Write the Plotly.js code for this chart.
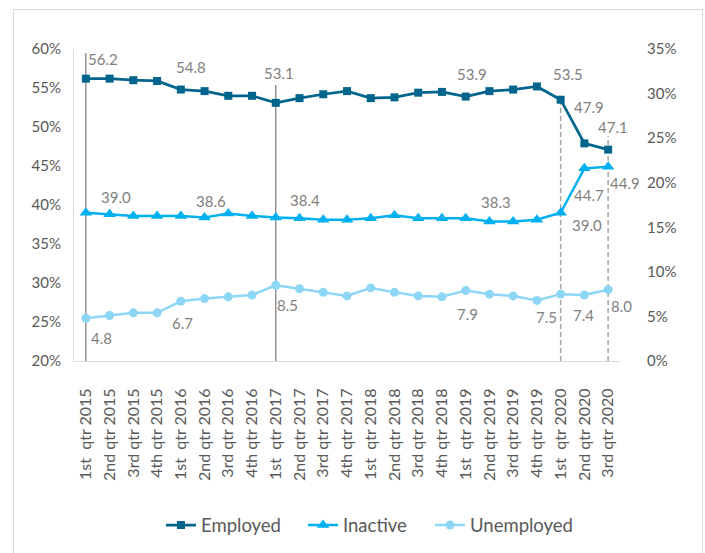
<!DOCTYPE html>
<html>
<head>
<meta charset="utf-8">
<script src="https://cdn.plot.ly/plotly-3.0.1.min.js"></script>
<style>html,body{margin:0;padding:0;background:#fff;}#chart{width:705px;height:553px;}</style>
</head>
<body>
<div id="chart"></div>
<script>
// ---- data ----
const quarters = [
  "1st\u00a0 qtr 2015","2nd qtr 2015","3rd qtr 2015","4th qtr 2015",
  "1st\u00a0 qtr 2016","2nd qtr 2016","3rd qtr 2016","4th qtr 2016",
  "1st\u00a0 qtr 2017","2nd qtr 2017","3rd qtr 2017","4th qtr 2017",
  "1st\u00a0 qtr 2018","2nd qtr 2018","3rd qtr 2018","4th qtr 2018",
  "1st\u00a0 qtr 2019","2nd qtr 2019","3rd qtr 2019","4th qtr 2019",
  "1st\u00a0 qtr 2020","2nd qtr 2020","3rd qtr 2020"
];
const employed   = [56.2,56.2,56.0,55.9,54.8,54.6,54.0,54.0,53.1,53.7,54.2,54.6,53.7,53.8,54.4,54.5,53.9,54.6,54.8,55.2,53.5,47.9,47.1];
const inactive   = [39.0,38.8,38.6,38.6,38.6,38.4,38.9,38.6,38.4,38.3,38.1,38.1,38.3,38.7,38.3,38.3,38.3,37.9,37.9,38.1,39.0,44.7,44.9];
const unemployed = [4.8,5.1,5.4,5.4,6.7,7.0,7.2,7.4,8.5,8.1,7.7,7.3,8.2,7.7,7.3,7.2,7.9,7.5,7.3,6.8,7.5,7.4,8.0];

// which points carry a data label
const labelIdx = [0,4,8,16,20,21,22];
// label offsets in pixels [dx, dy(up)]
const empOff = [[17,20],[10,23],[3,30],[6,23],[7,26],[5,36],[5,23]];
const inaOff = [[30,16],[30,15],[29,17],[30,16],[26,-12],[5,-27],[17,-16]];
const uneOff = [[16,-20],[2,-22],[12,-20],[2,-23],[-14,-23],[-1,-20],[13,-16]];

// reference drop lines: [category index, top value on left axis, dashed?]
const dropLines = [[0,59.5,false],[8,55.4,false],[20,employed[20],true],[22,48.85,true]];

const C_EMP = '#00658d', C_INA = '#00b0f0', C_UNE = '#8dd6f6';
const FONT = 'Lato, "Open Sans", sans-serif';
const x = quarters;

const traces = [
  {x:x, y:employed, name:'Employed', type:'scatter', mode:'lines+markers', legend:'legend',
   line:{color:C_EMP, width:2.75}, marker:{symbol:'square', size:8, color:C_EMP}, yaxis:'y'},
  {x:x, y:inactive, name:'Inactive', type:'scatter', mode:'lines+markers', legend:'legend2',
   line:{color:C_INA, width:2.5}, marker:{symbol:'triangle-up', size:11, color:C_INA}, yaxis:'y'},
  {x:x, y:unemployed, name:'Unemployed', type:'scatter', mode:'lines+markers', legend:'legend3',
   line:{color:C_UNE, width:2.5}, marker:{symbol:'circle', size:9, color:C_UNE}, yaxis:'y2'}
];

const annotations = [];
function addLabels(series, offs, yref){
  labelIdx.forEach((i,k)=>{
    annotations.push({x:quarters[i], y:series[i], xref:'x', yref:yref,
      text:series[i].toFixed(1), showarrow:false,
      xanchor:'center', yanchor:'middle', xshift:offs[k][0], yshift:offs[k][1],
      font:{family:FONT, size:15, color:'#7f7f7f'}});
  });
}
addLabels(employed, empOff, 'y');
addLabels(inactive, inaOff, 'y');
addLabels(unemployed, uneOff, 'y2');

const shapes = dropLines.map(d=>({type:'line', xref:'x', yref:'y', layer:'below',
  x0:quarters[d[0]], x1:quarters[d[0]], y0:20, y1:d[1],
  line:{color: d[2] ? '#a6a6a6' : '#7f7f7f', width: d[2]?1.5:1.25, dash: d[2] ? '5px,3px' : 'solid'}}));
shapes.push({type:'rect', xref:'paper', yref:'paper', layer:'below',
  x0:-0.1108, x1:1.1511, y0:-0.7, y1:1.1266, line:{color:'#d9d9d9', width:1}, fillcolor:'rgba(0,0,0,0)'});

function legendAt(px){
  return {orientation:'h', xref:'container', yref:'container', x:px/705, xanchor:'left',
    y:1-525.5/553, yanchor:'middle', font:{family:FONT, size:18.5, color:'#595959'},
    bgcolor:'rgba(0,0,0,0)', borderwidth:0};
}

const layout = {
  width:705, height:553,
  margin:{l:74, r:85, t:49, b:192, pad:0},
  paper_bgcolor:'#ffffff', plot_bgcolor:'#ffffff',
  font:{family:FONT, color:'#595959'},
  showlegend:true,
  legend:legendAt(161), legend2:legendAt(303), legend3:legendAt(430),
  xaxis:{type:'category', range:[-0.5,22.5], showgrid:false, zeroline:false,
    showline:true, linecolor:'#d9d9d9', linewidth:1, ticks:'', tickangle:-90,
    ticklabelstandoff:20, tickfont:{family:FONT, size:16, color:'#595959'}},
  yaxis:{range:[20,60], dtick:5, tick0:20, ticksuffix:'%', showgrid:false, zeroline:false,
    showline:true, linecolor:'#d9d9d9', linewidth:1, ticks:'', ticklabelstandoff:9,
    tickfont:{family:FONT, size:15, color:'#595959'}},
  yaxis2:{range:[0,35], dtick:5, tick0:0, ticksuffix:'%', overlaying:'y', side:'right',
    showgrid:false, zeroline:false, showline:false, ticks:'', ticklabelstandoff:26,
    tickfont:{family:FONT, size:15, color:'#595959'}},
  annotations:annotations,
  shapes:shapes
};

Plotly.newPlot('chart', traces, layout, {displayModeBar:false, responsive:false});
</script>
</body>
</html>
